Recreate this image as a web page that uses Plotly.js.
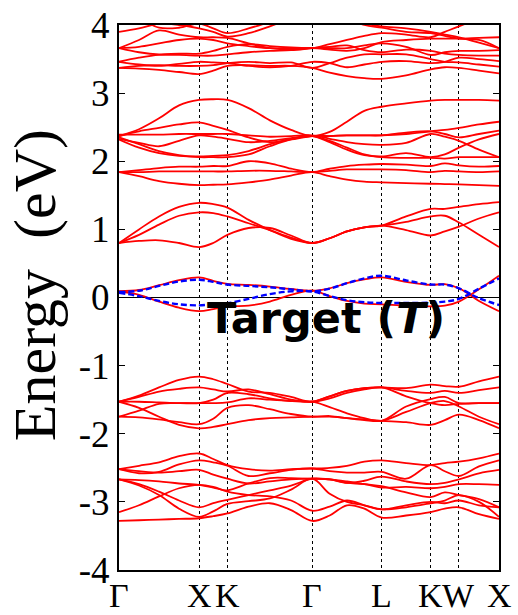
<!DOCTYPE html>
<html>
<head>
<meta charset="utf-8">
<script src="https://cdn.plot.ly/plotly-3.0.1.min.js"></script>
<style>html,body{margin:0;padding:0;background:#fff;}#chart{width:518px;height:615px;}</style>
</head>
<body>
<div id="chart"></div>
<script>
// k-path sampling (distance along path, 2π/a units)
const kSample = [0, 0.25, 0.5, 0.75, 1.0, 1.177, 1.354, 1.619, 1.884, 2.149, 2.414, 2.631, 2.847, 3.064, 3.280, 3.586, 3.892, 4.069, 4.246, 4.496, 4.746];
const tickPos = [0, 1.0, 1.354, 2.414, 3.280, 3.892, 4.246, 4.746];
const tickLabels = ['Γ', 'X', 'K', 'Γ', 'L', 'K', 'W', 'X'];
const yTickVals = [-4, -3, -2, -1, 0, 1, 2, 3, 4];
const yTickText = ['-4', '-3', '-2', '-1', '0', '1', '2', '3', '4'];

// red bands (eV)
const bandT1 = [3.37, 3.36, 3.34, 3.31, 3.28, 3.33, 3.40, 3.41, 3.40, 3.40, 3.37, 3.30, 3.25, 3.22, 3.21, 3.26, 3.35, 3.38, 3.37, 3.33, 3.29];
const bandT2 = [3.37, 3.40, 3.41, 3.40, 3.40, 3.41, 3.44, 3.46, 3.44, 3.45, 3.37, 3.44, 3.52, 3.57, 3.57, 3.57, 3.50, 3.46, 3.45, 3.42, 3.39];
const bandT3 = [3.46, 3.42, 3.40, 3.43, 3.46, 3.45, 3.44, 3.40, 3.38, 3.40, 3.46, 3.44, 3.38, 3.42, 3.46, 3.47, 3.44, 3.46, 3.52, 3.50, 3.47];
const bandT4 = [3.46, 3.52, 3.56, 3.56, 3.55, 3.55, 3.57, 3.60, 3.62, 3.63, 3.66, 3.68, 3.70, 3.63, 3.60, 3.64, 3.62, 3.58, 3.56, 3.55, 3.55];
const bandT5 = [3.66, 3.60, 3.57, 3.58, 3.58, 3.62, 3.68, 3.72, 3.69, 3.67, 3.66, 3.66, 3.66, 3.70, 3.73, 3.68, 3.56, 3.60, 3.62, 3.62, 3.63];
const bandT6 = [3.66, 3.68, 3.73, 3.78, 3.80, 3.78, 3.73, 3.69, 3.66, 3.66, 3.66, 3.64, 3.62, 3.66, 3.75, 3.78, 3.80, 3.80, 3.80, 3.81, 3.82];
const bandT7 = [3.66, 3.78, 3.92, 3.86, 3.82, 3.82, 3.81, 3.73, 3.66, 3.64, 3.66, 3.72, 3.78, 3.84, 3.88, 3.86, 3.82, 3.90, 3.98, 4.10, 4.20];
const bandT8 = [3.90, 3.95, 4.02, 4.00, 3.95, 3.90, 3.83, 3.88, 3.98, 4.10, 4.20, 4.20, 4.10, 4.00, 3.96, 3.90, 3.88, 3.84, 3.80, 3.78, 3.66];
const bandT9 = [4.20, 4.10, 3.96, 3.96, 4.02, 3.95, 3.88, 3.95, 4.05, 4.20, 4.30, 4.20, 4.10, 4.02, 3.98, 3.95, 3.90, 3.86, 3.82, 3.74, 3.66];
const bandE1 = [2.37, 2.47, 2.63, 2.82, 2.90, 2.91, 2.90, 2.78, 2.60, 2.46, 2.37, 2.43, 2.58, 2.74, 2.80, 2.85, 2.89, 2.90, 2.90, 2.90, 2.89];
const bandG1 = [2.37, 2.44, 2.49, 2.54, 2.57, 2.52, 2.46, 2.35, 2.28, 2.32, 2.37, 2.37, 2.38, 2.38, 2.38, 2.40, 2.44, 2.46, 2.49, 2.54, 2.58];
const bandG2 = [2.39, 2.39, 2.39, 2.40, 2.40, 2.40, 2.40, 2.38, 2.36, 2.37, 2.38, 2.33, 2.28, 2.25, 2.24, 2.27, 2.40, 2.36, 2.30, 2.17, 2.06];
const bandG3 = [2.35, 2.25, 2.15, 2.09, 2.06, 2.06, 2.06, 2.10, 2.22, 2.32, 2.37, 2.28, 2.17, 2.09, 2.07, 2.12, 2.06, 2.10, 2.20, 2.32, 2.40];
const bandG4 = [2.32, 2.20, 2.12, 2.08, 2.07, 2.08, 2.09, 2.15, 2.25, 2.33, 2.37, 2.30, 2.20, 2.10, 2.06, 2.05, 2.05, 2.04, 2.06, 2.06, 2.06];
const bandG5 = [2.33, 2.27, 2.22, 2.30, 2.38, 2.36, 2.33, 2.28, 2.30, 2.34, 2.37, 2.37, 2.38, 2.38, 2.38, 2.42, 2.44, 2.40, 2.35, 2.40, 2.45];
const bandD1 = [1.84, 1.78, 1.71, 1.67, 1.65, 1.655, 1.66, 1.69, 1.73, 1.79, 1.84, 1.78, 1.73, 1.70, 1.69, 1.68, 1.67, 1.665, 1.66, 1.65, 1.64];
const bandD2 = [1.84, 1.84, 1.85, 1.85, 1.85, 1.85, 1.85, 1.86, 1.86, 1.85, 1.84, 1.86, 1.88, 1.88, 1.88, 1.87, 1.84, 1.86, 1.85, 1.84, 1.85];
const bandD3 = [1.84, 1.87, 1.90, 1.92, 1.92, 1.93, 1.93, 2.00, 1.97, 1.89, 1.84, 1.89, 1.93, 1.95, 1.96, 1.95, 1.93, 1.97, 1.94, 1.92, 1.93];
const bandC1 = [0.80, 0.83, 0.84, 0.80, 0.74, 0.80, 0.92, 1.02, 1.02, 0.91, 0.80, 0.87, 0.97, 1.03, 1.055, 0.99, 0.91, 0.97, 1.04, 1.16, 1.25];
const bandC2 = [0.80, 0.92, 1.07, 1.20, 1.25, 1.24, 1.19, 1.09, 0.99, 0.88, 0.80, 0.87, 0.97, 1.03, 1.055, 1.11, 1.19, 1.20, 1.10, 0.92, 0.74];
const bandC3 = [0.80, 1.00, 1.19, 1.33, 1.39, 1.37, 1.32, 1.14, 0.99, 0.86, 0.80, 0.87, 0.97, 1.03, 1.055, 1.19, 1.30, 1.30, 1.33, 1.37, 1.40];
const bandRU = [0.095, 0.11, 0.18, 0.255, 0.295, 0.245, 0.20, 0.185, 0.16, 0.125, 0.10, 0.135, 0.21, 0.265, 0.295, 0.23, 0.185, 0.195, 0.135, -0.05, -0.20];
const bandRL = [0.085, 0.04, -0.06, -0.15, -0.20, -0.17, -0.13, -0.12, -0.06, 0.04, 0.10, 0.02, -0.05, -0.09, -0.10, -0.12, -0.13, -0.12, -0.06, 0.12, 0.32];
const bandW1 = [-1.53, -1.44, -1.32, -1.21, -1.16, -1.20, -1.27, -1.38, -1.40, -1.46, -1.53, -1.45, -1.37, -1.33, -1.32, -1.33, -1.28, -1.30, -1.31, -1.23, -1.16];
const bandW2 = [-1.53, -1.46, -1.38, -1.34, -1.32, -1.35, -1.38, -1.35, -1.42, -1.50, -1.53, -1.45, -1.37, -1.33, -1.32, -1.37, -1.40, -1.37, -1.40, -1.36, -1.32];
const bandW3 = [-1.53, -1.53, -1.54, -1.55, -1.55, -1.55, -1.54, -1.48, -1.50, -1.52, -1.53, -1.61, -1.70, -1.77, -1.81, -1.60, -1.49, -1.46, -1.55, -1.55, -1.55];
const bandW4 = [-1.53, -1.62, -1.75, -1.87, -1.92, -1.90, -1.86, -1.80, -1.77, -1.76, -1.75, -1.75, -1.77, -1.79, -1.81, -1.83, -1.87, -1.80, -1.72, -1.80, -1.92];
const bandW5 = [-1.75, -1.66, -1.56, -1.55, -1.55, -1.50, -1.40, -1.42, -1.48, -1.52, -1.53, -1.48, -1.40, -1.35, -1.32, -1.45, -1.55, -1.58, -1.56, -1.55, -1.55];
const bandW6 = [-1.75, -1.76, -1.79, -1.83, -1.86, -1.78, -1.62, -1.58, -1.64, -1.71, -1.75, -1.74, -1.77, -1.80, -1.81, -1.68, -1.55, -1.52, -1.60, -1.75, -1.86];
const bandB1 = [-2.52, -2.47, -2.42, -2.33, -2.29, -2.37, -2.46, -2.52, -2.54, -2.52, -2.51, -2.50, -2.47, -2.41, -2.39, -2.43, -2.46, -2.43, -2.41, -2.36, -2.29];
const bandB2 = [-2.52, -2.58, -2.56, -2.45, -2.39, -2.42, -2.47, -2.62, -2.58, -2.53, -2.51, -2.55, -2.57, -2.57, -2.56, -2.66, -2.46, -2.55, -2.62, -2.48, -2.39];
const bandB3 = [-2.52, -2.55, -2.57, -2.55, -2.53, -2.60, -2.66, -2.73, -2.70, -2.67, -2.66, -2.67, -2.72, -2.69, -2.63, -2.70, -2.74, -2.72, -2.67, -2.58, -2.53];
const bandB4 = [-2.67, -2.68, -2.70, -2.73, -2.75, -2.79, -2.83, -2.73, -2.65, -2.65, -2.66, -2.67, -2.72, -2.74, -2.79, -2.78, -2.80, -2.78, -2.74, -2.74, -2.75];
const bandB5 = [-2.67, -2.74, -2.85, -2.98, -3.08, -3.02, -2.97, -2.90, -2.83, -2.76, -2.66, -2.67, -2.70, -2.74, -2.77, -2.86, -2.93, -2.86, -2.90, -2.96, -3.08];
const bandB6 = [-2.67, -2.76, -2.90, -3.10, -3.22, -3.14, -3.03, -2.99, -2.95, -2.82, -2.66, -2.88, -3.00, -3.05, -3.11, -3.08, -3.02, -2.98, -2.90, -3.00, -3.22];
const bandB7 = [-3.15, -3.05, -2.92, -2.80, -2.75, -2.78, -2.85, -2.90, -2.92, -2.98, -3.13, -3.07, -2.98, -3.05, -3.11, -3.05, -3.00, -3.02, -2.98, -3.05, -3.08];
const bandB8 = [-3.28, -3.27, -3.26, -3.25, -3.24, -3.21, -3.17, -3.07, -3.02, -3.12, -3.28, -3.20, -3.05, -3.10, -3.23, -3.20, -3.15, -3.10, -3.08, -3.18, -3.25];

// blue dashed bands (eV)
const blueUpper = [0.08, 0.10, 0.17, 0.235, 0.26, 0.23, 0.19, 0.17, 0.15, 0.12, 0.09, 0.13, 0.21, 0.28, 0.32, 0.25, 0.19, 0.19, 0.135, -0.01, -0.11];
const blueLower = [0.07, 0.02, -0.05, -0.10, -0.115, -0.10, -0.085, -0.02, 0.05, 0.09, 0.09, 0.02, -0.04, -0.07, -0.08, -0.08, -0.075, -0.06, -0.02, 0.13, 0.28];

const redBands = [bandT1, bandT2, bandT3, bandT4, bandT5, bandT6, bandT7, bandT8, bandT9,
  bandE1, bandG1, bandG2, bandG3, bandG4, bandG5, bandD1, bandD2, bandD3,
  bandC1, bandC2, bandC3, bandRU, bandRL,
  bandW1, bandW2, bandW3, bandW4, bandW5, bandW6,
  bandB1, bandB2, bandB3, bandB4, bandB5, bandB6, bandB7, bandB8];
const blueBands = [blueUpper, blueLower];

const traces = [];
redBands.forEach(b => traces.push({
  x: kSample, y: b, type: 'scatter', mode: 'lines', hoverinfo: 'skip',
  line: {color: '#ff0000', width: 1.8, shape: 'spline', smoothing: 1}
}));
blueBands.forEach(b => traces.push({
  x: kSample, y: b, type: 'scatter', mode: 'lines', hoverinfo: 'skip',
  line: {color: '#0000ff', width: 2.4, dash: '6px,3px', shape: 'spline', smoothing: 1}
}));

const serif = 'Liberation Serif, Times New Roman, serif';

// k-point labels drawn as annotations under the axis
const annotations = tickPos.map((p, i) => ({
  xref: 'x', yref: 'paper', x: p, y: 0, xanchor: 'center', yanchor: 'bottom',
  yshift: -46, text: tickLabels[i], showarrow: false,
  font: {family: serif, size: 34, color: '#000'}
}));
annotations.push({
  xref: 'paper', yref: 'y', x: 0.545, y: -0.30, xanchor: 'center', yanchor: 'middle',
  text: '<b>Target (<i>T</i>)</b>', showarrow: false,
  font: {family: 'DejaVu Sans', size: 43, color: '#000'}
});
// y-axis title
annotations.push({
  xref: 'paper', yref: 'paper', x: -0.222, y: 0.522, xanchor: 'center', yanchor: 'middle',
  text: 'Energy  (eV)', textangle: -90, showarrow: false,
  font: {family: serif, size: 60, color: '#000'}
});

const layout = {
  width: 518, height: 615,
  margin: {l: 119, r: 19, t: 25, b: 45},
  paper_bgcolor: '#fff', plot_bgcolor: '#fff',
  showlegend: false,
  xaxis: {
    range: [0, 4.746], tickmode: 'array', tickvals: tickPos, ticktext: tickLabels,
    showticklabels: false, automargin: false,
    showgrid: true, gridcolor: '#000', griddash: 'dot', gridwidth: 1,
    ticks: '', zeroline: false,
    showline: true, linecolor: '#000', linewidth: 2, mirror: true
  },
  yaxis: {
    range: [-4, 4], tickmode: 'array', tickvals: yTickVals, ticktext: yTickText,
    automargin: false,
    showgrid: false, ticks: 'inside', ticklen: 6, tickwidth: 1, tickcolor: '#000',
    zeroline: true, zerolinecolor: '#000', zerolinewidth: 1,
    showline: true, linecolor: '#000', linewidth: 2, mirror: 'ticks',
    tickfont: {family: serif, size: 37, color: '#000'}
  },
  annotations: annotations
};

Plotly.newPlot('chart', traces, layout, {staticPlot: true, displayModeBar: false});
</script>
</body>
</html>
